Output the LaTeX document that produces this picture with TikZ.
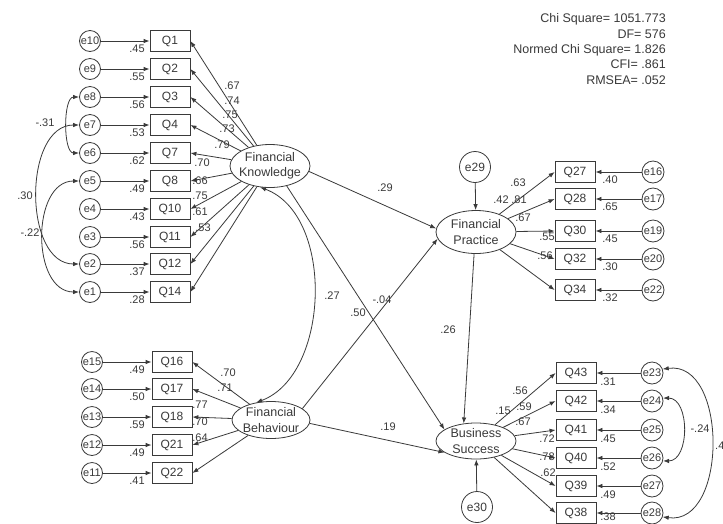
\documentclass[tikz,border=0pt]{standalone}
\usepackage{fontspec}
\setmainfont{Liberation Sans}
\usetikzlibrary{arrows.meta,shapes.geometric}
\definecolor{ink}{HTML}{3A3A3A}
\begin{document}
\begin{tikzpicture}[x=1pt,y=-1pt,
  qbox/.style={draw=ink, line width=0.8pt, rectangle, minimum width=40pt, minimum height=21pt, inner sep=0pt, font=\fontsize{12}{14}\selectfont, text=ink},
  err/.style={draw=ink, line width=0.8pt, circle, minimum size=21pt, inner sep=0pt, font=\fontsize{11}{13}\selectfont, text=ink},
  errr/.style={err, minimum size=22pt},
  bigerr/.style={err, minimum size=31pt, font=\fontsize{12}{14}\selectfont},
  lat/.style={draw=ink, line width=0.8pt, ellipse, minimum width=80pt, minimum height=43pt, inner xsep=-6pt, inner ysep=-10pt, align=center, font=\fontsize{12.5}{15.5}\selectfont, text=ink},
  lab/.style={font=\fontsize{11}{13}\selectfont, text=ink, inner sep=0pt},
  arr/.style={draw=ink, line width=0.8pt, -{Latex[length=6pt,width=4.5pt]}},
  cov/.style={draw=ink, line width=0.8pt, {Latex[length=6pt,width=4.5pt]}-{Latex[length=6pt,width=4.5pt]}}
]
\useasboundingbox (0,0) rectangle (723,523);
\fill[white] (0,0) rectangle (723,523);

% latent variables
\node[lat] (FK) at (270,166) {Financial\\Knowledge};
\node[lat, minimum width=78pt, minimum height=37pt] (FB) at (271,420) {Financial\\Behaviour};
\node[lat] (FP) at (476,232) {Financial\\Practice};
\node[lat, minimum height=36pt] (BS) at (476,441) {Business\\Success};
\node[bigerr] (e29) at (475,167) {e29};
\node[bigerr] (e30) at (477,507) {e30};

% Financial Knowledge indicators
\foreach \q/\e/\y/\vv in {Q1/e10/41/.45, Q2/e9/69/.55, Q3/e8/97/.56, Q4/e7/125/.53, Q7/e6/153/.62, Q8/e5/181/.49, Q10/e4/209/.43, Q11/e3/237/.56, Q12/e2/264/.37, Q14/e1/292/.28}{
  \node[qbox] (\q) at (170,\y) {\q};
  \node[err] (\e) at (90,\y) {\makebox[0pt]{\e}};
  \draw[arr] (\e) -- (\q);
  \draw[arr] (FK) -- (\q.east);
  \node[lab] (r\q) at (137,\y+8) {\vv};
}
\foreach \t/\x/\y [count=\i] in {.67/232/86, .74/232/101, .75/230/115, .73/227/129, .79/222/145, .70/202/163, .66/200/181, .75/200/196, .61/200/212, .53/203/228}
  \node[lab] (fk\i) at (\x,\y) {\t};

% Financial Behaviour indicators
\foreach \q/\e/\y/\vv in {Q16/e15/362/.49, Q17/e14/389/.50, Q18/e13/417/.59, Q21/e12/445/.49, Q22/e11/473/.41}{
  \node[qbox] (\q) at (172,\y) {\q};
  \node[err] (\e) at (92,\y) {\makebox[0pt]{\e}};
  \draw[arr] (\e) -- (\q);
  \draw[arr] (FB) -- (\q.east);
  \node[lab] (r\q) at (137,\y+8) {\vv};
}
\foreach \t/\x/\y [count=\i] in {.70/228/373, .71/225/388, .77/200/405, .70/200/422, .64/200/438}
  \node[lab] (fb\i) at (\x,\y) {\t};

% Financial Practice indicators
\foreach \q/\e/\y/\vv in {Q27/e16/172/.40, Q28/e17/199/.65, Q30/e19/231/.45, Q32/e20/259/.30, Q34/e22/290/.32}{
  \node[qbox] (\q) at (575,\y) {\q};
  \node[errr] (\e) at (653,\y) {\makebox[0pt]{\e}};
  \draw[arr] (\e) -- (\q);
  \draw[arr] (FP) -- (\q.west);
  \node[lab] (r\q) at (610,\y+8) {\vv};
}
\foreach \t/\x/\y [count=\i] in {.63/518/183, .81/519/200, .67/523/218, .55/547/237, .56/545/256}
  \node[lab] (fp\i) at (\x,\y) {\t};
\node[lab] (rFP) at (501,200) {.42};

% Business Success indicators
\foreach \q/\e/\y/\vv/\ly in {Q43/e23/373/.31/382, Q42/e24/401/.34/410, Q41/e25/430/.45/439, Q40/e26/458/.52/467, Q39/e27/486/.49/495, Q38/e28/513/.38/517}{
  \node[qbox] (\q) at (576,\y) {\q};
  \node[errr] (\e) at (652,\y) {\makebox[0pt]{\e}};
  \draw[arr] (\e) -- (\q);
  \draw[arr] (BS) -- (\q.west);
  \node[lab] (r\q) at (608,\ly) {\vv};
}
\foreach \t/\x/\y [count=\i] in {.56/520/391, .59/524/407, .67/523/422, .72/547/439, .78/547/457, .62/548/473}
  \node[lab] (bs\i) at (\x,\y) {\t};
\node[lab] (rBS) at (503,411) {.15};

% structural paths
\draw[arr] (FK.-8) -- (FP.175);
\draw[arr] (FK.-50) -- (BS.160);
\draw[arr] (FB.20) -- (FP.190);
\draw[arr] (FB.-5) -- (BS.200);
\draw[arr] (FP.-95) -- (BS.125);
\draw[arr] (e29) -- (FP);
\draw[arr] (e30) -- (BS);
\node[lab] (p1) at (385,188) {.29};
\node[lab] (p2) at (358,313) {.50};
\node[lab] (p3) at (382,300) {-.04};
\node[lab] (p4) at (388,427) {.19};
\node[lab] (p5) at (448,330) {.26};

% covariances
\draw[cov] (FK.-115) .. controls (335,215) and (330,375) .. (FB.130);
\node[lab] (c0) at (332,296) {.27};
\draw[cov] (e8.west) .. controls (63,97) and (63,153) .. (e6.west);
\draw[cov] (e7.west) .. controls (23,125) and (23,264) .. (e2.west);
\draw[cov] (e5.west) .. controls (31,181) and (31,292) .. (e1.west);
\node[lab] (c1) at (45,123) {-.31};
\node[lab] (c2) at (25,196) {.30};
\node[lab] (c3) at (30,233) {-.22};
\draw[cov] (e23.20) .. controls (728,360) and (728,526) .. (e28.-20);
\draw[cov] (e24.15) .. controls (690,398) and (690,461) .. (e26.-15);
\node[lab] (c4) at (700,429) {-.24};
\node[lab, anchor=west] (c5) at (715,446) {.4};

% fit statistics
\node[anchor=east, align=right, font=\fontsize{12.5}{15.3}\selectfont, text=ink, inner sep=0pt] (stats) at (666,49)
  {Chi Square= 1051.773\\DF= 576\\Normed Chi Square= 1.826\\CFI= .861\\RMSEA= .052};
\end{tikzpicture}
\end{document}
